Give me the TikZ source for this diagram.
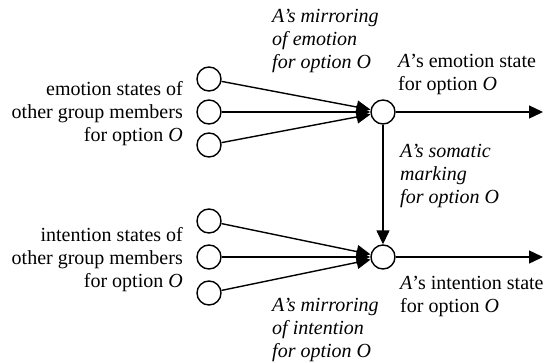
\documentclass[tikz,border=0pt]{standalone}
\usepackage{fontspec}
\setmainfont{Liberation Serif}
\usetikzlibrary{arrows.meta}
\begin{document}
\begin{tikzpicture}[x=1pt,y=-1pt,
  dot/.style={circle,draw,line width=1.4pt,minimum size=24pt,inner sep=0pt,fill=white},
  conn/.style={line width=1.4pt,-{Triangle[length=14pt,width=13pt]}},
  lab/.style={inner sep=0pt,font=\fontsize{20}{23}\selectfont}]
\useasboundingbox (0,0) rectangle (544,362);
% circles
\node[dot] (e1) at (209,79) {};
\node[dot] (e2) at (209,112) {};
\node[dot] (e3) at (209,145) {};
\node[dot] (E)  at (383,112) {};
\node[dot] (i1) at (209,221) {};
\node[dot] (i2) at (209,257) {};
\node[dot] (i3) at (209,293) {};
\node[dot] (I)  at (383,257) {};
\coordinate (eo) at (543,112);
\coordinate (io) at (543,257);
% connectors
\draw[conn] (e1) -- (E);
\draw[conn] (e2) -- (E);
\draw[conn] (e3) -- (E);
\draw[conn] (i1) -- (I);
\draw[conn] (i2) -- (I);
\draw[conn] (i3) -- (I);
\draw[conn] (E) -- (eo);
\draw[conn] (I) -- (io);
\draw[conn] (E) -- (I);
% labels
\node[lab,align=right,anchor=north east] (le) at (183,81) {emotion states of\\other group members\\for option \textit{O}};
\node[lab,align=right,anchor=north east] (li) at (183,227) {intention states of\\other group members\\for option \textit{O}};
\node[lab,align=left,anchor=north west,font=\fontsize{20}{23}\selectfont\itshape] (me) at (272,9) {A’s mirroring\\of emotion\\for option O};
\node[lab,align=left,anchor=north west] (se) at (398,54) {\textit{A}’s emotion state\\for option \textit{O}};
\node[lab,align=left,anchor=north west,font=\fontsize{20}{23}\selectfont\itshape] (sm) at (400,144) {A’s somatic\\marking\\for option O};
\node[lab,align=left,anchor=north west] (si) at (400,276) {\textit{A}’s intention state\\for option \textit{O}};
\node[lab,align=left,anchor=north west,font=\fontsize{20}{23}\selectfont\itshape] (mi) at (272,298) {A’s mirroring\\of intention\\for option O};
\end{tikzpicture}
\end{document}
